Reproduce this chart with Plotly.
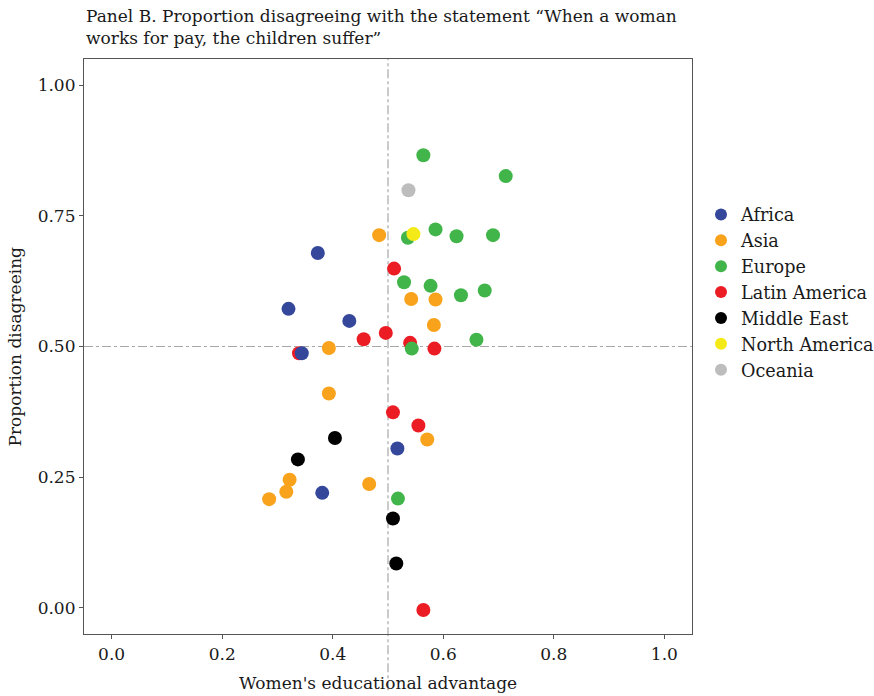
import plotly.graph_objects as go

# Data
regions = ["Africa", "Asia", "Europe", "Latin America", "Middle East", "North America", "Oceania"]
colors = {
    "Africa": "#34479B",
    "Asia": "#F9A21C",
    "Europe": "#41B549",
    "Latin America": "#EC1C24",
    "Middle East": "#000000",
    "North America": "#F4EA17",
    "Oceania": "#BDBDBD",
}

africa_x = [0.373, 0.320, 0.430, 0.344, 0.517, 0.381]
africa_y = [0.679, 0.572, 0.549, 0.487, 0.305, 0.220]

asia_x = [0.484, 0.542, 0.586, 0.583, 0.393, 0.393, 0.571, 0.322, 0.316, 0.285, 0.466]
asia_y = [0.713, 0.591, 0.590, 0.541, 0.497, 0.410, 0.322, 0.245, 0.222, 0.208, 0.237]

europe_x = [0.564, 0.713, 0.536, 0.586, 0.624, 0.690, 0.529, 0.577, 0.632, 0.675, 0.543, 0.660, 0.518]
europe_y = [0.866, 0.826, 0.708, 0.724, 0.711, 0.713, 0.623, 0.616, 0.598, 0.607, 0.496, 0.513, 0.209]

latam_x = [0.511, 0.496, 0.456, 0.540, 0.584, 0.339, 0.509, 0.555, 0.564]
latam_y = [0.649, 0.526, 0.514, 0.507, 0.496, 0.487, 0.374, 0.349, -0.004]

mideast_x = [0.404, 0.337, 0.509, 0.515]
mideast_y = [0.325, 0.284, 0.171, 0.085]

namerica_x = [0.546]
namerica_y = [0.715]

oceania_x = [0.537]
oceania_y = [0.799]

data = {
    "Africa": (africa_x, africa_y),
    "Asia": (asia_x, asia_y),
    "Europe": (europe_x, europe_y),
    "Latin America": (latam_x, latam_y),
    "Middle East": (mideast_x, mideast_y),
    "North America": (namerica_x, namerica_y),
    "Oceania": (oceania_x, oceania_y),
}

x_ticks = [0.0, 0.2, 0.4, 0.6, 0.8, 1.0]
x_ticklabels = ["0.0", "0.2", "0.4", "0.6", "0.8", "1.0"]
y_ticks = [0.0, 0.25, 0.5, 0.75, 1.0]
y_ticklabels = ["0.00", "0.25", "0.50", "0.75", "1.00"]

FONT = "DejaVu Serif"
TXT = "#1a1a1a"

fig = go.Figure()

draw_order = ["Latin America", "Middle East", "Asia", "Africa", "Europe", "North America", "Oceania"]
for name in draw_order:
    xs, ys = data[name]
    fig.add_trace(go.Scatter(
        x=xs, y=ys, mode="markers", name=name,
        legendrank=regions.index(name) + 1,
        marker=dict(size=14, color=colors[name], line=dict(width=0)),
    ))

# reference lines
fig.add_shape(type="line", xref="x", yref="paper", x0=0.5, x1=0.5, y0=-0.098, y1=1,
              line=dict(color="#A8A8A8", width=1.2, dash="dashdot"), layer="below")
fig.add_shape(type="line", xref="paper", yref="y", x0=0, x1=1, y0=0.5, y1=0.5,
              line=dict(color="#A8A8A8", width=1.2, dash="dashdot"), layer="below")

fig.add_annotation(
    text="Panel B. Proportion disagreeing with the statement \u201cWhen a woman<br>works for pay, the children suffer\u201d",
    xref="paper", yref="paper", x=0, y=1.096, xanchor="left", yanchor="top",
    align="left", showarrow=False, font=dict(family=FONT, size=17, color=TXT),
)
fig.add_annotation(
    text="Women's educational advantage", xref="paper", yref="paper",
    x=0.483, y=-0.0854, xanchor="center", yanchor="middle", showarrow=False,
    font=dict(family=FONT, size=17, color=TXT),
)
fig.add_annotation(
    text="Proportion disagreeing", xref="paper", yref="paper",
    x=-0.1135, y=0.5, xanchor="center", yanchor="middle", textangle=-90, showarrow=False,
    font=dict(family=FONT, size=17, color=TXT),
)

axis_common = dict(
    showgrid=False, zeroline=False, showline=True, mirror=True,
    linecolor="#555555", linewidth=1.2, ticks="outside", ticklen=4,
    tickcolor="#555555", tickwidth=1.2,
    tickfont=dict(family=FONT, size=17, color=TXT),
)

# The canvas is a bit wider than the 874 px window so the legend box's
# padding can run past the right edge, as in the reference.
fig.update_layout(
    width=910, height=696,
    margin=dict(l=84, r=218, t=59, b=62),
    paper_bgcolor="white", plot_bgcolor="white",
    font=dict(family=FONT, size=17, color=TXT),
    xaxis=dict(range=[-0.05, 1.05], tickvals=x_ticks, ticktext=x_ticklabels, **axis_common),
    yaxis=dict(range=[-0.05, 1.05], tickvals=y_ticks, ticktext=y_ticklabels, **axis_common),
    legend=dict(x=1.0148, y=0.594, xanchor="left", yanchor="middle",
                font=dict(family=FONT, size=17.6, color=TXT), itemsizing="constant",
                bgcolor="rgba(0,0,0,0)"),
    showlegend=True,
)

fig.write_html(
    "out.html",
    config={"displayModeBar": False},
    post_script=(
        "document.documentElement.style.overflow='hidden';"
        "document.body.style.margin='0px';"
        "document.body.style.overflow='hidden';"
    ),
)
